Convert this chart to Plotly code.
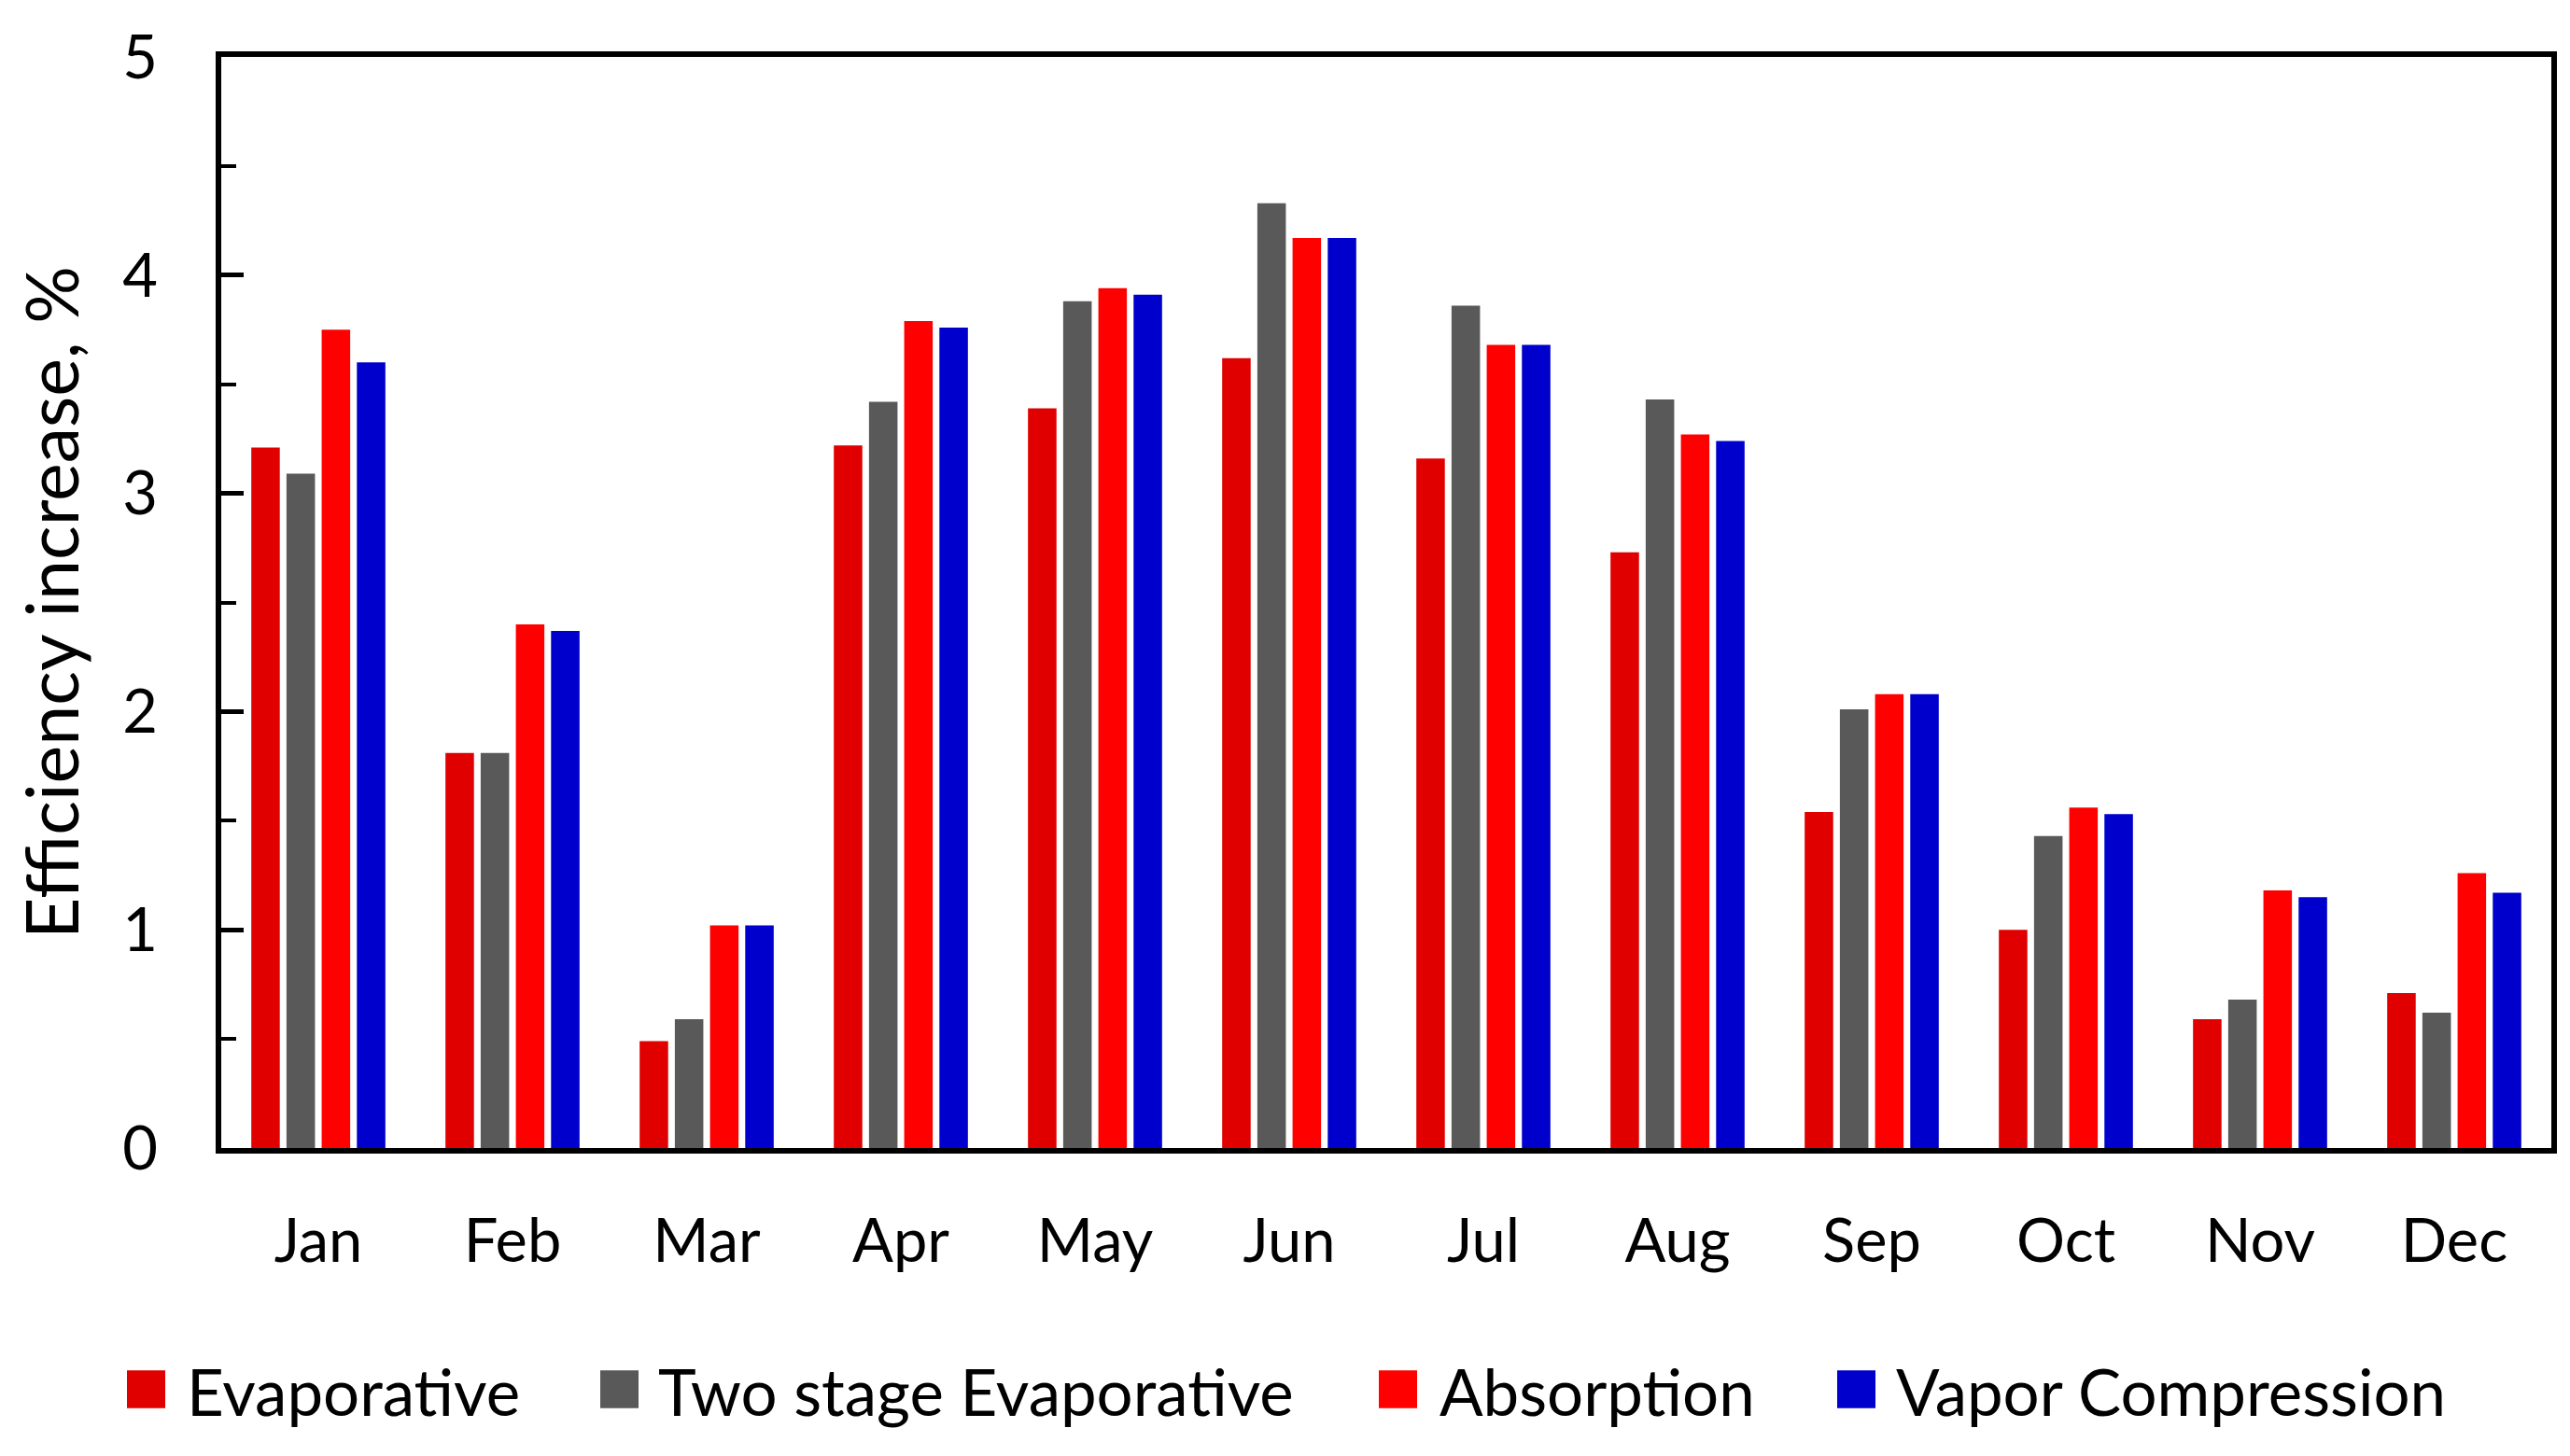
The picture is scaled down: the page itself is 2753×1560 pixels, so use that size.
import plotly.graph_objects as go

months = ["Jan", "Feb", "Mar", "Apr", "May", "Jun", "Jul", "Aug", "Sep", "Oct", "Nov", "Dec"]
evaporative = [3.21, 1.81, 0.49, 3.22, 3.39, 3.62, 3.16, 2.73, 1.54, 1.00, 0.59, 0.71]
two_stage = [3.09, 1.81, 0.59, 3.42, 3.88, 4.33, 3.86, 3.43, 2.01, 1.43, 0.68, 0.62]
absorption = [3.75, 2.40, 1.02, 3.79, 3.94, 4.17, 3.68, 3.27, 2.08, 1.56, 1.18, 1.26]
vapor = [3.60, 2.37, 1.02, 3.76, 3.91, 4.17, 3.68, 3.24, 2.08, 1.53, 1.15, 1.17]

series_names = ["Evaporative", "Two stage Evaporative", "Absorption", "Vapor Compression"]
series_values = [evaporative, two_stage, absorption, vapor]
series_colors = ["#E00000", "#595959", "#FF0000", "#0000CC"]

FONT = "Lato"
TICK_FS = 65
LEG_FS = 69
TITLE_FS = 77

# figure size (page body has an 8px default margin)
W, H = 2745, 1552
ML, MR, MT, MB = 229, 20, 44, 330
PW, PH = W - ML - MR, H - MT - MB

def px_to_paper_x(px):
    return (px - ML) / PW

def px_to_paper_y(py):
    return (H - MB - py) / PH

fig = go.Figure()
for name, vals, col in zip(series_names, series_values, series_colors):
    fig.add_trace(go.Bar(x=months, y=vals, name=name,
                         marker=dict(color=col, line=dict(width=0)),
                         showlegend=False))

# custom legend with large square keys (layout positions in px)
legend_square_left = [128, 635, 1469, 1960]
legend_text_left = [190, 695, 1532, 2021]
SQ = 41
LEG_Y_TOP, LEG_Y_BOT = 1462, 1503
shapes = []
annotations = []
for name, col, sx, tx in zip(series_names, series_colors, legend_square_left, legend_text_left):
    shapes.append(dict(type="rect", xref="paper", yref="paper",
                       x0=px_to_paper_x(sx), x1=px_to_paper_x(sx + SQ),
                       y0=px_to_paper_y(LEG_Y_BOT), y1=px_to_paper_y(LEG_Y_TOP),
                       fillcolor=col, line=dict(width=0), layer="above"))
    annotations.append(dict(text=name, xref="paper", yref="paper",
                            x=px_to_paper_x(tx), y=px_to_paper_y((LEG_Y_TOP + LEG_Y_BOT) / 2 + 2),
                            xanchor="left", yanchor="middle", showarrow=False,
                            font=dict(family=FONT, size=LEG_FS, color="black")))

fig.update_layout(
    width=W, height=H,
    margin=dict(l=ML, r=MR, t=MT, b=MB, pad=0),
    paper_bgcolor="white", plot_bgcolor="white",
    barmode="group", bargap=0.275, bargroupgap=0.19,
    font=dict(family=FONT, size=TICK_FS, color="black"),
    showlegend=False,
    shapes=shapes, annotations=annotations,
)
fig.update_xaxes(
    showline=True, linewidth=6, linecolor="black", mirror=True,
    ticks="", showgrid=False, zeroline=False,
    tickfont=dict(family=FONT, size=TICK_FS), ticklabelstandoff=38,
)
fig.update_yaxes(
    range=[0, 5], dtick=1, tick0=0,
    showline=True, linewidth=6, linecolor="black", mirror=True,
    ticks="inside", ticklen=24, tickwidth=5, tickcolor="black",
    minor=dict(dtick=0.5, ticks="inside", ticklen=16, tickwidth=4, tickcolor="black", showgrid=False),
    showgrid=False, zeroline=False,
    tickfont=dict(family=FONT, size=TICK_FS), ticklabelstandoff=49,
    title=dict(text="Efficiency increase, %", font=dict(family=FONT, size=TITLE_FS), standoff=38),
)

fig.write_html("out.html")
